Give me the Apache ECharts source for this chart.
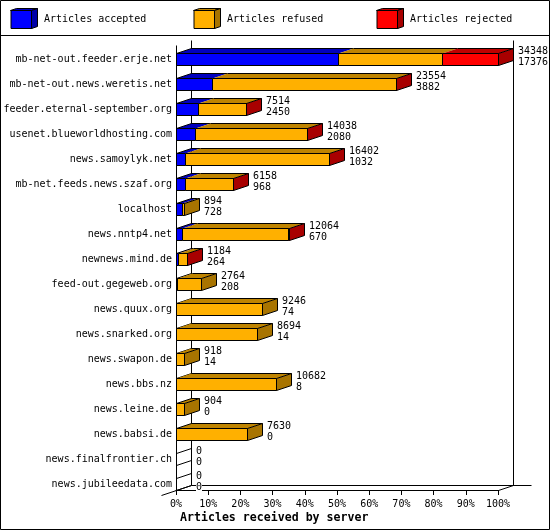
<!DOCTYPE html>
<html><head><meta charset="utf-8">
<style>html,body{margin:0;padding:0;background:#fff}#c{width:550px;height:530px}</style>
<script src="https://cdn.jsdelivr.net/npm/echarts@6/dist/echarts.min.js"></script>
</head><body><div id="c"></div>
<script>
const servers = ['mb-net-out.feeder.erje.net','mb-net-out.news.weretis.net','feeder.eternal-september.org','usenet.blueworldhosting.com','news.samoylyk.net','mb-net.feeds.news.szaf.org','localhost','news.nntp4.net','newnews.mind.de','feed-out.gegeweb.org','news.quux.org','news.snarked.org','news.swapon.de','news.bbs.nz','news.leine.de','news.babsi.de','news.finalfrontier.ch','news.jubileedata.com'];
const totals   = [34348,23554,7514,14038,16402,6158,894,12064,1184,2764,9246,8694,918,10682,904,7630,0,0];
const accepted = [17376,3882,2450,2080,1032,968,728,670,264,208,74,14,14,8,0,0,0,0];
const refused  = [11034,19620,5050,11950,15360,5180,166,11380,910,2556,9172,8680,904,10674,904,7630,0,0];
const rejected = [5938,52,14,8,10,10,0,14,10,0,0,0,0,0,0,0,0,0];
const seriesNames = ['Articles accepted','Articles refused','Articles rejected'];
const seriesValues = [accepted,refused,rejected];
const faces = [
  {front:'#0000ff',top:'#0000bf',side:'#0000a8'},
  {front:'#ffb000',top:'#bf8400',side:'#a87400'},
  {front:'#ff0000',top:'#bf0000',side:'#a80000'}
];
const axisMax = Math.max(...totals);
const pct = v => v / axisMax * 100;
const DX = 15, DY = 5, HALF = 6;
const FONT = '10px "DejaVu Sans Mono"';
const snap = v => Math.floor(v) + 0.5;

function poly(points, fill, stroke, z2){
  return {type:'polygon', z2:z2||0, shape:{points}, style:{fill:fill, stroke:stroke||null, lineWidth:1}, silent:true};
}
function line(x1,y1,x2,y2,z2){
  return {type:'line', z2:z2||0, shape:{x1,y1,x2,y2}, style:{stroke:'#000',lineWidth:1,fill:null}, silent:true};
}

function stackSeries(k){
  return {
    type:'custom', name:seriesNames[k], coordinateSystem:'cartesian2d', animation:false,
    itemStyle:{color:faces[k].front}, z:3+k, clip:false,
    data: servers.map((s,i)=>{
      let start = 0; for(let j=0;j<k;j++) start += seriesValues[j][i];
      return [pct(start), i, pct(start+seriesValues[k][i]), start+seriesValues[k][i]>=totals[i] ? 1 : 0];
    }),
    encode:{x:[0,2],y:1},
    renderItem(params, api){
      const a = api.coord([api.value(0), api.value(1)]);
      const b = api.coord([api.value(2), api.value(1)]);
      const isEnd = api.value(3) === 1;
      const v = api.value(2) - api.value(0);
      const out = [];
      if (v <= 0) {
        return {type:'group',children:[]};
      }
      const x0 = snap(a[0]), x1 = snap(b[0]), yt = snap(a[1]-HALF), yb = snap(a[1]+HALF);
      const f = faces[k];
      out.push(poly([[x0,yt],[x1,yt],[x1+DX,yt-DY],[x0+DX,yt-DY]], f.top, null));
      out.push(line(x0+DX,yt-DY,x1+DX,yt-DY,1));
      if (k===0 || api.value(0)===0) out.push(line(x0,yt,x0+DX,yt-DY,1));
      if (isEnd) out.push(poly([[x1,yt],[x1+DX,yt-DY],[x1+DX,yb-DY],[x1,yb]], f.side, '#000', 1));
      out.push(poly([[x0,yt],[x1,yt],[x1,yb],[x0,yb]], f.front, '#000', 2));
      return {type:'group',children:out};
    }
  };
}

const frameSeries = {
  type:'custom', silent:true, animation:false, z:1, clip:false,
  data:[[0,0]], encode:{x:0,y:1},
  renderItem(params, api){
    const tl = api.coord([0,0]);
    const bl = api.coord([0,servers.length-1]);
    const br = api.coord([100,servers.length-1]);
    const xl = snap(tl[0]), xr = snap(br[0]);
    const yb = snap(bl[1]+HALF), yt = snap(tl[1]-14);
    return {type:'group',children:[
      line(xl,yt,xl,yb),
      line(xl+DX,yt-DY,xl+DX,yb-DY),
      line(xr+DX,yt-DY,xr+DX,yb-DY),
      line(xl+DX,yb-DY,xr+DX+18,yb-DY),
      line(xl-DX,yb+DY,xl+DX,yb-DY),
      line(xr,yb,xr+DX,yb-DY)
    ]};
  }
};
const zeroSeries = {
  type:'custom', silent:true, animation:false, z:2, clip:false,
  data: servers.map((s,i)=>[0,i,totals[i]]), encode:{x:0,y:1},
  renderItem(params, api){
    if (api.value(2)!==0) return {type:'group',children:[]};
    const c = api.coord([0,api.value(1)]);
    const x = snap(c[0]);
    return {type:'group',children:[
      line(x,snap(c[1]-HALF),x+DX,snap(c[1]-HALF)-DY),
      line(x,snap(c[1]+HALF),x+DX,snap(c[1]+HALF)-DY)
    ]};
  }
};
const labelSeries = {
  type:'custom', silent:true, animation:false, z:8, clip:false,
  data: servers.map((s,i)=>[pct(totals[i]),i,totals[i],accepted[i]]), encode:{x:0,y:1},
  renderItem(params, api){
    const c = api.coord([api.value(0),api.value(1)]);
    const x = Math.floor(c[0])+DX+5;
    const mk = (t,y)=>({type:'text',style:{text:String(t),x,y,font:FONT,fill:'#000',
        verticalAlign:'middle',align:'left',
        backgroundColor:api.value(2)===0?'#fff':null}});
    return {type:'group',children:[mk(api.value(2),c[1]-8),mk(api.value(3),c[1]+3)]};
  }
};

const chart = echarts.init(document.getElementById('c'),null,{renderer:'canvas',width:550,height:530});

function cube(x,y,w,h,f){
  const d=6,e=2;
  return [
    {type:'polygon',shape:{points:[[x,y],[x+w,y],[x+w+d,y-e],[x+d,y-e]]},style:{fill:f.top,stroke:'#000',lineWidth:1},z:20,silent:true},
    {type:'polygon',shape:{points:[[x+w,y],[x+w+d,y-e],[x+w+d,y+h-e],[x+w,y+h]]},style:{fill:f.side,stroke:'#000',lineWidth:1},z:20,silent:true}
  ];
}
const legendAt = (name,left)=>({
  left,top:10,padding:0,orient:'horizontal',icon:'rect',itemWidth:21,itemHeight:18,
  selectedMode:false,data:[name],
  itemStyle:{borderColor:'#000',borderWidth:1},
  textStyle:{fontFamily:'DejaVu Sans Mono',fontSize:10,color:'#000',padding:[2,0,0,7]}
});

chart.setOption({
  animation:false,
  backgroundColor:'#fff',
  textStyle:{fontFamily:'DejaVu Sans Mono',fontSize:10},
  grid:{left:176,top:46.5,width:322,height:450,containLabel:false},
  title:{text:'Articles received by server',left:180,top:512,padding:0,
    textStyle:{fontFamily:'DejaVu Sans Mono',fontSize:11.6,fontWeight:'bold',color:'#000'}},
  legend:[legendAt(seriesNames[0],10.5),legendAt(seriesNames[1],193.5),legendAt(seriesNames[2],376.5)],
  xAxis:{type:'value',min:0,max:100,interval:10,position:'bottom',offset:-6.5,
    axisLine:{show:true,onZero:false,lineStyle:{color:'#000',width:1}},
    axisTick:{show:true,length:5,lineStyle:{color:'#000'}},
    axisLabel:{formatter:'{value}%',color:'#000',fontFamily:'DejaVu Sans Mono',fontSize:10,margin:9,hideOverlap:false},
    splitLine:{show:false}},
  yAxis:{type:'category',inverse:true,data:servers,
    axisLine:{show:false},axisTick:{show:false},
    axisLabel:{color:'#000',fontFamily:'DejaVu Sans Mono',fontSize:10,margin:4,interval:0,hideOverlap:false,padding:[2,0,0,0]},
    splitLine:{show:false}},
  graphic:{elements:[
    {type:'rect',shape:{x:0.5,y:0.5,width:549,height:529},style:{fill:null,stroke:'#000',lineWidth:1},z:30,silent:true},
    {type:'line',shape:{x1:0,y1:35.5,x2:550,y2:35.5},style:{stroke:'#000',lineWidth:1},z:30,silent:true},
    ...cube(10.5,10.5,21,18,faces[0]),
    ...cube(193.5,10.5,21,18,faces[1]),
    ...cube(376.5,10.5,21,18,faces[2])
  ]},
  series:[frameSeries,zeroSeries,stackSeries(0),stackSeries(1),stackSeries(2),labelSeries]
});
</script></body></html>
